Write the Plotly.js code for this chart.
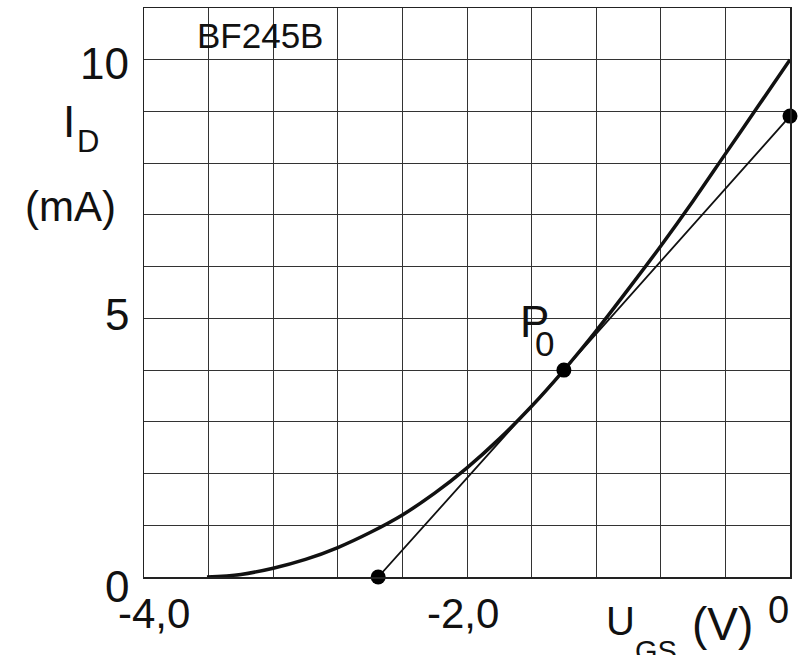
<!DOCTYPE html>
<html>
<head>
<meta charset="utf-8">
<script src="https://cdn.plot.ly/plotly-3.0.1.min.js"></script>
<style>html,body{margin:0;padding:0;background:#fff;}#chart{width:798px;height:655px;}</style>
</head>
<body>
<div id="chart"></div>
<script>
// Transfer characteristic of BF245B
const ugs = [-3.61, -3.4, -3.2, -3.0, -2.8, -2.6, -2.4, -2.2, -2.0, -1.8, -1.6, -1.4, -1.2, -1.0, -0.8, -0.6, -0.4, -0.2, 0.0];
const id  = [0.0, 0.05, 0.17, 0.34, 0.57, 0.86, 1.20, 1.62, 2.11, 2.67, 3.30, 4.00, 4.76, 5.57, 6.40, 7.27, 8.18, 9.09, 10.0];

// Tangent at the working point P0
const tanU = [-2.55, -1.40, 0.0];
const tanI = [0.0, 4.00, 8.91];

// Axis tick labels
const yTickVals = [0, 5, 10];
const yTickText = ['0', '5', '10'];
const xTickVals = [-4, -2];
const xTickText = ['-4,0', '-2,0'];

const FONT = 'Liberation Sans, Arial, sans-serif';
const W = 798, H = 655, ML = 144, MR = 8, MT = 8, MB = 78;
const PW = W - ML - MR, PH = H - MT - MB;
const px = v => (v - ML) / PW;          // pixel -> paper x
const py = v => (H - MB - v) / PH;      // pixel -> paper y

const traces = [
  { x: ugs, y: id, mode: 'lines', line: { color: '#111', width: 3.5, shape: 'spline', smoothing: 1.0 }, hoverinfo: 'skip' },
  { x: tanU, y: tanI, mode: 'lines+markers',
    line: { color: '#111', width: 1.8 },
    marker: { color: '#000', size: 15 }, cliponaxis: false, hoverinfo: 'skip' }
];

function ann(text, x, y, size, xa, ya) {
  return { text: text, xref: 'paper', yref: 'paper', x: px(x), y: py(y), showarrow: false,
           xanchor: xa || 'center', yanchor: ya || 'middle',
           font: { family: FONT, size: size, color: '#111' } };
}

const annotations = [];
// y tick labels (right aligned)
const yLabelShift = { 0: 9, 5: -4, 10: 4 };
yTickVals.forEach((v, i) => {
  annotations.push({ text: yTickText[i], xref: 'paper', yref: 'y', x: px(131), y: v, yshift: -yLabelShift[v],
    showarrow: false, xanchor: 'right', yanchor: 'middle', font: { family: FONT, size: 44, color: '#111' } });
});
// x tick labels
const xLabelShift = { '-4': 10, '-2': -4 };
xTickVals.forEach((v, i) => {
  annotations.push({ text: xTickText[i], xref: 'x', yref: 'paper', x: v, xshift: xLabelShift[String(v)], y: py(613),
    showarrow: false, xanchor: 'center', yanchor: 'middle', font: { family: FONT, size: 42, color: '#111' } });
});
annotations.push(ann('0', 791, 610, 38, 'right'));
// axis titles
annotations.push(ann('U', 620, 621, 40));
annotations.push(ann('GS', 656, 651, 29));
annotations.push(ann('(V)', 722, 624, 46));
annotations.push(ann('I', 69, 121, 44));
annotations.push(ann('D', 88, 142, 31));
annotations.push(ann('(mA)', 70, 206, 42));
// in-plot labels
annotations.push(ann('BF245B', 195, 36, 35, 'left'));
annotations.push(ann('P', 534, 321, 44));
annotations.push(ann('0', 544, 343, 35));

const layout = {
  width: W, height: H,
  margin: { l: ML, r: MR, t: MT, b: MB, pad: 0 },
  paper_bgcolor: '#fff', plot_bgcolor: '#fff',
  showlegend: false,
  xaxis: { range: [-4, 0], tick0: -4, dtick: 0.4, showgrid: true, gridcolor: '#333', gridwidth: 1,
           zeroline: false, showline: true, mirror: true, linecolor: '#222', linewidth: 1.5,
           ticks: '', showticklabels: false, fixedrange: true },
  yaxis: { range: [0, 11], tick0: 0, dtick: 1, showgrid: true, gridcolor: '#333', gridwidth: 1,
           zeroline: false, showline: true, mirror: true, linecolor: '#222', linewidth: 1.5,
           ticks: '', showticklabels: false, fixedrange: true },
  annotations: annotations
};

Plotly.newPlot('chart', traces, layout, { displayModeBar: false, staticPlot: true });
</script>
</body>
</html>
